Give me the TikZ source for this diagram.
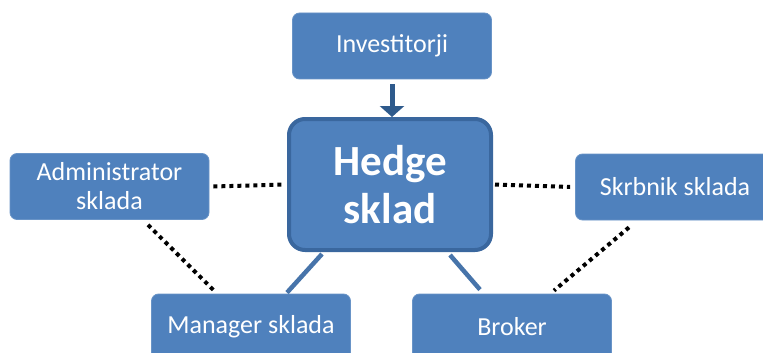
\documentclass[tikz,border=0pt]{standalone}
\usepackage{fontspec}
\setmainfont{Carlito}
\usetikzlibrary{arrows.meta}
\definecolor{boxblue}{HTML}{4F81BD}
\definecolor{edgeblue}{HTML}{3A679E}
\definecolor{arrowblue}{HTML}{2E5A8C}
\tikzset{
  smallbox/.style={draw=boxblue!85!white, line width=0.8pt, fill=boxblue, rounded corners=7pt,
    minimum width=199pt, minimum height=66pt, inner sep=0pt, text=white,
    font=\fontsize{26}{29}\selectfont, align=center},
  bigbox/.style={draw=edgeblue, line width=4pt, fill=boxblue, rounded corners=16pt,
    minimum width=202pt, minimum height=131pt, inner sep=0pt, text=white,
    font=\bfseries\fontsize{43}{48}\selectfont, align=center},
  dotline/.style={draw=black, line width=4pt, dash pattern=on 4pt off 4pt},
  solidline/.style={draw=boxblue!90!black, line width=4.5pt},
  feed/.style={draw=arrowblue, line width=5pt, -{Triangle[width=24pt,length=11pt]}}
}
\begin{document}
\begin{tikzpicture}[x=1pt,y=-1pt]
\useasboundingbox (0,0) rectangle (763,353);
\clip (0,0) rectangle (763,353);
\node[smallbox] (inv) at (392,46) {Investitorji};
\node[bigbox] (hedge) at (390,184.5) {\raisebox{-3pt}{Hedge}\\\raisebox{-3pt}{sklad}};
\node[smallbox] (admin) at (109.5,186.5) {Administrator\\sklada};
\node[smallbox] (skr) at (675,187) {Skrbnik sklada};
\node[smallbox] (man) at (251,327) {Manager sklada};
\node[smallbox] (brk) at (512,327) {Broker};
\draw[feed, shorten <=5pt] (inv.south) -- (inv.south |- hedge.north);
\draw[dotline] ([xshift=4pt]admin.east) -- ([xshift=-2pt]hedge.west);
\draw[dotline] ([xshift=2pt]hedge.east) -- ([xshift=-5pt]skr.west);
\draw[dotline] ([xshift=38.5pt,yshift=-5pt]admin.south) -- ([xshift=-36pt,yshift=2pt]man.north);
\draw[dotline] ([xshift=-46pt,yshift=-7pt]skr.south) -- ([xshift=42pt,yshift=3pt]brk.north);
\draw[solidline] ([xshift=-68pt,yshift=-2pt]hedge.south) -- ([xshift=36pt,yshift=1pt]man.north);
\draw[solidline] ([xshift=60pt,yshift=-3pt]hedge.south) -- ([xshift=-32pt,yshift=4pt]brk.north);
\end{tikzpicture}
\end{document}
